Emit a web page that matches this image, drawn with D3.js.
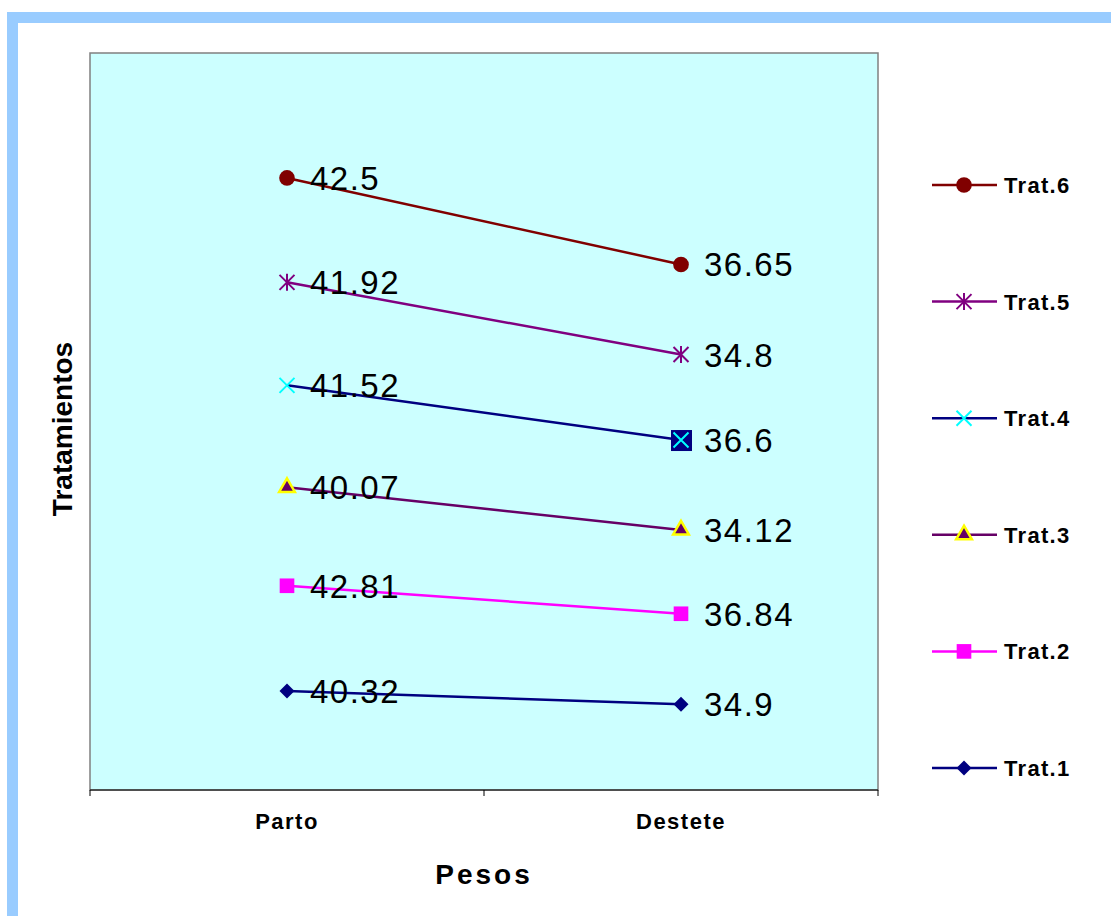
<!DOCTYPE html>
<html>
<head>
<meta charset="utf-8">
<script src="https://cdn.jsdelivr.net/npm/d3@7"></script>
<style>
  body { margin: 0; background: #fff; }
  svg { display: block; font-family: Arial, "Liberation Sans", sans-serif; }
</style>
</head>
<body>
<svg id="chart" width="1111" height="916"></svg>
<script>
// categories on the x axis
const stages = ["Parto", "Destete"];
// series (bottom to top in the stack)
const series = ["Trat.1", "Trat.2", "Trat.3", "Trat.4", "Trat.5", "Trat.6"];
const parto   = [40.32, 42.81, 40.07, 41.52, 41.92, 42.5];
const destete = [34.9, 36.84, 34.12, 36.6, 34.8, 36.65];

const lineColors   = ["#000080", "#FF00FF", "#660066", "#000080", "#800080", "#800000"];
const markerColors = ["#000080", "#FF00FF", "#660066", "#00FFFF", "#800080", "#800000"];
const markerTypes  = ["diamond", "square", "triangle", "x", "star", "circle"];

const svg = d3.select("#chart");

// outer light blue frame (right/bottom run off the page)
svg.append("rect")
  .attr("x", 12.5).attr("y", 17.5)
  .attr("width", 1300).attr("height", 1100)
  .attr("fill", "none")
  .attr("stroke", "#99CCFF")
  .attr("stroke-width", 11);

const plot = { left: 90, right: 878, top: 53, bottom: 790 };

// stacked rows
const rows = stages.map((s, i) => {
  const r = { stage: s };
  series.forEach((k, j) => r[k] = (i === 0 ? parto : destete)[j]);
  return r;
});
const stacked = d3.stack().keys(series)(rows);

const x = d3.scaleBand().domain(stages).range([plot.left, plot.right]);
const y = d3.scaleLinear().domain([0, 300]).range([plot.bottom, plot.top]);

// plot area
svg.append("rect")
  .attr("x", plot.left).attr("y", plot.top)
  .attr("width", plot.right - plot.left).attr("height", plot.bottom - plot.top)
  .attr("fill", "#CCFFFF")
  .attr("stroke", "#808080")
  .attr("stroke-width", 1.5);

// x axis
const xAxis = svg.append("g")
  .attr("transform", `translate(0,${plot.bottom})`);
xAxis.append("line")
  .attr("x1", plot.left).attr("x2", plot.right)
  .attr("stroke", "#000").attr("stroke-width", 1);
const tickPos = [plot.left, ...stages.map(s => x(s) + x.bandwidth())];
xAxis.selectAll("line.tick").data(tickPos).join("line")
  .attr("class", "tick")
  .attr("x1", d => d).attr("x2", d => d)
  .attr("y1", 0).attr("y2", 6)
  .attr("stroke", "#000");
xAxis.selectAll("text").data(stages).join("text")
  .attr("x", d => x(d) + x.bandwidth() / 2)
  .attr("y", 39)
  .attr("text-anchor", "middle")
  .attr("font-size", 22)
  .attr("font-weight", "bold")
  .attr("letter-spacing", 1.5)
  .text(d => d);

// axis titles
svg.append("text")
  .attr("x", (plot.left + plot.right) / 2)
  .attr("y", 884)
  .attr("text-anchor", "middle")
  .attr("font-size", 28)
  .attr("font-weight", "bold")
  .attr("letter-spacing", 3)
  .text("Pesos");

svg.append("text")
  .attr("transform", "translate(72,429) rotate(-90)")
  .attr("text-anchor", "middle")
  .attr("font-size", 28)
  .attr("font-weight", "bold")
  .text("Tratamientos");

function markerPath(type, size) {
  const h = size / 2;
  if (type === "x") return `M${-h},${-h}L${h},${h}M${h},${-h}L${-h},${h}`;
  if (type === "star") return `M${-h},${-h}L${h},${h}M${h},${-h}L${-h},${h}M0,${-h - 1}L0,${h + 1}`;
  if (type === "diamond") return `M0,${-h}L${h},0L0,${h}L${-h},0Z`;
  const sym = { square: d3.symbolSquare, triangle: d3.symbolTriangle, circle: d3.symbolCircle }[type];
  const area = { square: 200, triangle: 100, circle: 180 }[type];
  return d3.symbol(sym, area * size / 14)();
}

function drawMarker(g, i, cx, cy) {
  const t = markerTypes[i];
  const p = g.append("path")
    .attr("transform", `translate(${cx},${cy})`)
    .attr("d", markerPath(t, 15));
  if (t === "x" || t === "star") {
    p.attr("fill", "none").attr("stroke", markerColors[i]).attr("stroke-width", 2);
  } else if (t === "triangle") {
    p.attr("fill", markerColors[i]).attr("stroke", "#FFFF00").attr("stroke-width", 2.5);
  } else {
    p.attr("fill", markerColors[i]);
  }
}

const line = d3.line()
  .x(d => x(d.data.stage) + x.bandwidth() / 2)
  .y(d => y(d[1]));

stacked.forEach((layer, i) => {
  const g = svg.append("g");
  g.append("path")
    .datum(layer)
    .attr("d", line)
    .attr("fill", "none")
    .attr("stroke", lineColors[i])
    .attr("stroke-width", 2.5);
  layer.forEach(d => {
    const cx = x(d.data.stage) + x.bandwidth() / 2;
    const cy = y(d[1]);
    // Trat.4 Destete point shown with a selected-style navy box
    if (i === 3 && d.data.stage === "Destete") {
      g.append("rect")
        .attr("x", cx - 10).attr("y", cy - 10)
        .attr("width", 21).attr("height", 21)
        .attr("fill", "#000080");
    }
    drawMarker(g, i, cx, cy);
    g.append("text")
      .attr("x", cx + 23)
      .attr("y", cy + 12)
      .attr("font-size", 33)
      .attr("letter-spacing", 1.5)
      .attr("fill", "#000")
      .text(d.data[series[i]]);
  });
});

// legend, top = Trat.6
const legendY = d3.scalePoint().domain(series.slice().reverse()).range([185, 768]);
series.forEach((s, i) => {
  const ly = legendY(s);
  const g = svg.append("g");
  g.append("line")
    .attr("x1", 932).attr("x2", 997)
    .attr("y1", ly).attr("y2", ly)
    .attr("stroke", lineColors[i]).attr("stroke-width", 2.5);
  drawMarker(g, i, 964, ly);
  g.append("text")
    .attr("x", 1004).attr("y", ly + 8)
    .attr("font-size", 22)
    .attr("font-weight", "bold")
    .attr("letter-spacing", 1.3)
    .text(s);
});
</script>
</body>
</html>
